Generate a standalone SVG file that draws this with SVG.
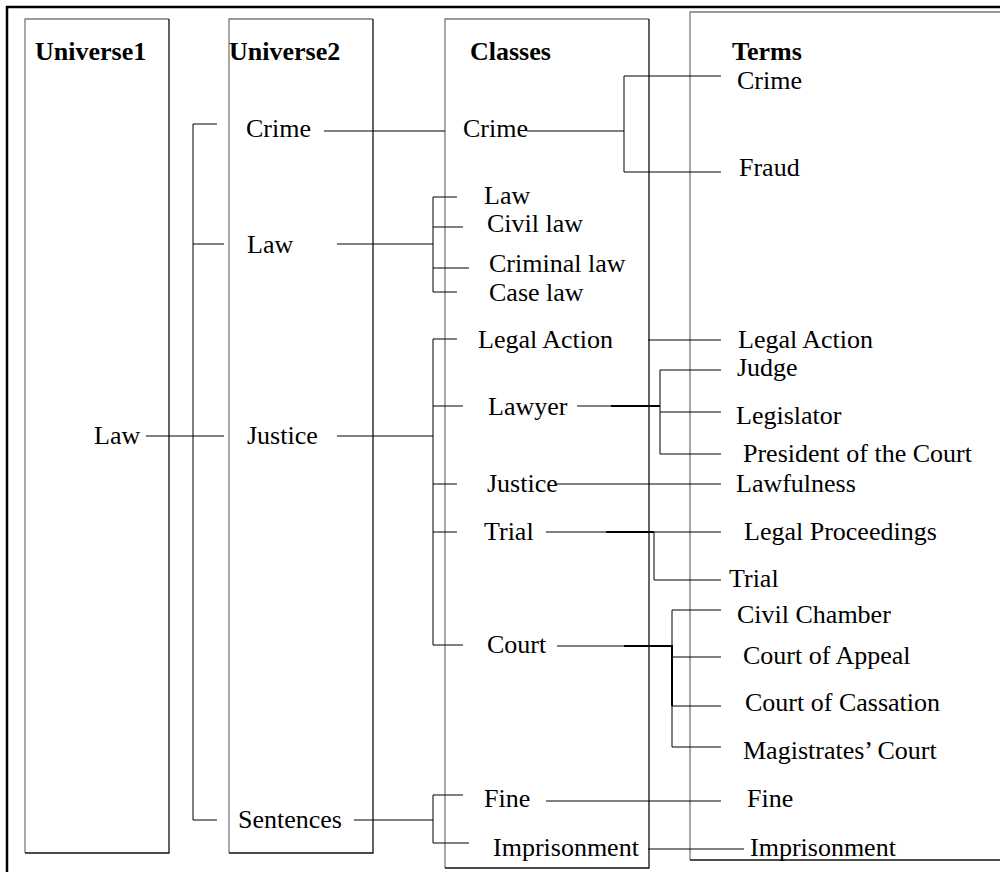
<svg xmlns="http://www.w3.org/2000/svg" width="1000" height="872" viewBox="0 0 1000 872">
<style>
text{font-family:'Liberation Serif','Times New Roman',serif;font-size:26px;fill:#000}
.h{font-weight:bold}
.lt{fill:none;stroke:#7a7a7a;stroke-width:1.3}
.dk{fill:none;stroke:#111;stroke-width:1.3}
.c{fill:none;stroke:#000;stroke-width:1}
.ct{fill:none;stroke:#000;stroke-width:2}
</style>
<rect x="0" y="0" width="1000" height="872" fill="#fff"/>
<path d="M7,872 V7 H1000" fill="none" stroke="#000" stroke-width="2.5"/>
<g id="col-universe1">
<path class="lt" d="M25,853 V19 H169"/><path class="dk" d="M169,19 V853 H25"/>
<text class="h" x="35" y="60">Universe1</text>
</g>
<g id="col-universe2">
<path class="lt" d="M229,853 V19 H373"/><path class="dk" d="M373,19 V853 H229"/>
<text class="h" x="229" y="60">Universe2</text>
</g>
<g id="col-classes">
<path class="lt" d="M445,868 V19 H649"/><path class="dk" d="M649,19 V868 H445"/>
<text class="h" x="470" y="60">Classes</text>
</g>
<g id="col-terms">
<path class="lt" d="M690,860 V12 H1000"/><path class="dk" d="M690,860 H1000"/>
<text class="h" x="732" y="60">Terms</text>
</g>
<g id="connectors">
<path class="c" d="M146,436 H193"/>
<path class="c" d="M217,124 H193 V820 H217 M193,244 H224 M193,436 H224"/>
<path class="c" d="M324,131 H445"/>
<path class="c" d="M337,244 H433 M457,197 H433 V292 H457 M433,227 H463 M433,268 H469"/>
<path class="c" d="M337,436 H433 M457,339 H433 V645 H463 M433,406 H463 M433,484 H457 M433,532 H457"/>
<path class="c" d="M354,820 H433 M463,795 H433 V843 H469"/>
<path class="c" d="M527,131 H624 M721,76 H624 V172 H721"/>
<path class="c" d="M648,340 H721"/>
<path class="c" d="M577,406 H660 M721,370 H660 V454 H721 M660,412 H721"/>
<path class="ct" d="M611,406 H660"/>
<path class="c" d="M557,484 H721"/>
<path class="c" d="M546,532 H721 M654,532 V580 H721"/>
<path class="ct" d="M606,532 H654"/>
<path class="c" d="M557,646 H672 M721,610 H672 V747 H721 M672,657 H721 M672,706 H721"/>
<path class="ct" d="M624,646 H672 V706"/>
<path class="c" d="M546,801 H721"/>
<path class="c" d="M648,849 H744"/>
</g>
<g id="u1-law"><text x="94" y="444">Law</text></g>
<g id="u2-crime"><text x="246" y="137">Crime</text></g>
<g id="u2-law"><text x="247" y="253">Law</text></g>
<g id="u2-justice"><text x="247" y="444">Justice</text></g>
<g id="u2-sentences"><text x="238" y="828">Sentences</text></g>
<g id="cl-crime"><text x="463" y="137">Crime</text></g>
<g id="cl-law"><text x="484" y="204">Law</text></g>
<g id="cl-civil-law"><text x="487" y="232">Civil law</text></g>
<g id="cl-criminal-law"><text x="489" y="272">Criminal law</text></g>
<g id="cl-case-law"><text x="489" y="301">Case law</text></g>
<g id="cl-legal-action"><text x="478" y="348">Legal Action</text></g>
<g id="cl-lawyer"><text x="488" y="415">Lawyer</text></g>
<g id="cl-justice"><text x="487" y="492">Justice</text></g>
<g id="cl-trial"><text x="484" y="540">Trial</text></g>
<g id="cl-court"><text x="487" y="653">Court</text></g>
<g id="cl-fine"><text x="484" y="807">Fine</text></g>
<g id="cl-imprisonment"><text x="493" y="856">Imprisonment</text></g>
<g id="t-crime"><text x="737" y="89">Crime</text></g>
<g id="t-fraud"><text x="739" y="176">Fraud</text></g>
<g id="t-legal-action"><text x="738" y="348">Legal Action</text></g>
<g id="t-judge"><text x="737" y="376">Judge</text></g>
<g id="t-legislator"><text x="736" y="424">Legislator</text></g>
<g id="t-president"><text x="743" y="462">President of the Court</text></g>
<g id="t-lawfulness"><text x="736" y="492">Lawfulness</text></g>
<g id="t-legal-proceedings"><text x="744" y="540">Legal Proceedings</text></g>
<g id="t-trial"><text x="729" y="587">Trial</text></g>
<g id="t-civil-chamber"><text x="737" y="623">Civil Chamber</text></g>
<g id="t-court-appeal"><text x="743" y="664">Court of Appeal</text></g>
<g id="t-court-cassation"><text x="745" y="711">Court of Cassation</text></g>
<g id="t-magistrates"><text x="743" y="759">Magistrates’ Court</text></g>
<g id="t-fine"><text x="747" y="807">Fine</text></g>
<g id="t-imprisonment"><text x="750" y="856">Imprisonment</text></g>
</svg>
